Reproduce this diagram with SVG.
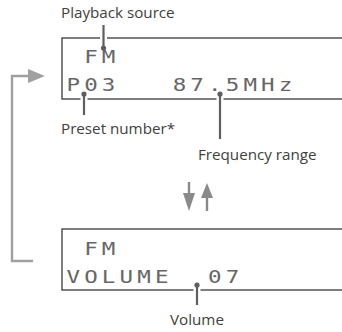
<svg xmlns="http://www.w3.org/2000/svg" width="342" height="332" viewBox="0 0 342 332">
<style>
.box{fill:none;stroke:#3a3a3a;stroke-width:1.3}
.lcd{font-family:"DejaVu Sans Mono","Liberation Mono",monospace;font-size:18px;fill:#666;letter-spacing:3.32px}
.lbl{font-family:"Open Sans","Noto Sans","Liberation Sans",sans-serif;font-size:15.2px;fill:#404040}
.halo{stroke:#fff;stroke-width:7}
.con{stroke:#5e5e5e;stroke-width:2.2;fill:none}
.dot{fill:#5e5e5e}
.loop{stroke:#a0a0a0;stroke-width:2.4;fill:none}
.loophead{fill:#a0a0a0}
.sw{stroke:#8a8a8a;stroke-width:2.4;fill:none}
.swhead{fill:#8a8a8a}
</style>
<g id="display-fm">
<rect class="box" x="62" y="38" width="300" height="61"/>
<g transform="scale(1.25 1)">
<text class="lcd" x="67.36" y="63">FM</text>
<text class="lcd" x="53.2" y="91">P03</text>
<text class="lcd" x="138.16" y="91">87.5MHz</text>
</g>
</g>
<g id="display-volume">
<rect class="box" x="62" y="229" width="300" height="61"/>
<g transform="scale(1.25 1)">
<text class="lcd" x="67.36" y="255">FM</text>
<text class="lcd" x="53.2" y="283">VOLUME</text>
<text class="lcd" x="166.48" y="283">07</text>
</g>
</g>
<g id="label-playback-source"><text class="lbl" x="61" y="18">Playback source</text></g>
<g id="label-preset-number"><text class="lbl" x="61" y="134">Preset number*</text></g>
<g id="label-frequency-range"><text class="lbl" x="198" y="160">Frequency range</text></g>
<g id="label-volume"><text class="lbl" x="170" y="325">Volume</text></g>
<g id="connectors">
<line class="halo" x1="103.5" y1="34" x2="103.5" y2="42"/>
<line class="con" x1="103.5" y1="25" x2="103.5" y2="48"/>
<circle class="dot" cx="103.5" cy="48" r="2.6"/>
<line class="halo" x1="84" y1="96" x2="84" y2="102"/>
<line class="con" x1="84" y1="94" x2="84" y2="115"/>
<circle class="dot" cx="84" cy="94" r="2.6"/>
<line class="halo" x1="220" y1="96" x2="220" y2="102"/>
<line class="con" x1="220" y1="94" x2="220" y2="139"/>
<circle class="dot" cx="220" cy="94" r="2.6"/>
<line class="halo" x1="197" y1="287" x2="197" y2="293"/>
<line class="con" x1="197" y1="285" x2="197" y2="305"/>
<circle class="dot" cx="197" cy="285" r="2.6"/>
<path class="loop" d="M33,261 H12 V76 H30"/>
<polygon class="loophead" points="28,69 45,76 28,83"/>
<line class="sw" x1="189" y1="182" x2="189" y2="195"/>
<polygon class="swhead" points="183,193 195,193 189,211"/>
<line class="sw" x1="207" y1="197" x2="207" y2="211"/>
<polygon class="swhead" points="201,198 213,198 207,183"/>
</g>
</svg>
